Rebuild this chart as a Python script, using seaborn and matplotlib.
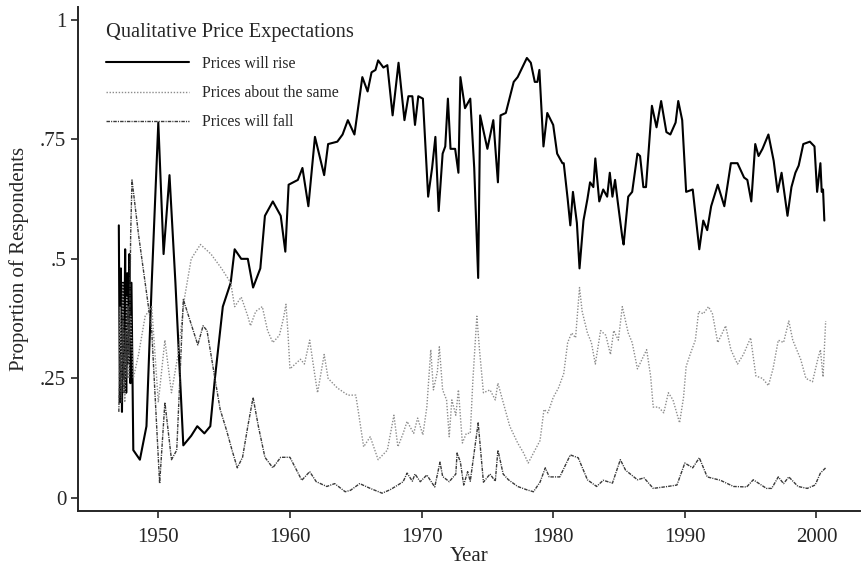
import matplotlib
matplotlib.use("Agg")
import matplotlib.pyplot as plt
import seaborn as sns
import pandas as pd

# Prices will rise
rise_year = [1947.0, 1947.08, 1947.16, 1947.24, 1947.32, 1947.4, 1947.48, 1947.56, 1947.64, 1947.72,
             1947.8, 1947.88, 1947.96, 1948.1, 1948.6, 1949.1, 1949.5, 1950.0, 1950.4, 1950.85,
             1951.3, 1951.9, 1952.5, 1952.96, 1953.5, 1953.95, 1954.3, 1954.9, 1955.5, 1955.8,
             1956.3, 1956.8, 1957.2, 1957.75, 1958.1, 1958.7, 1959.3, 1959.65, 1959.9, 1960.6,
             1960.95, 1961.4, 1961.9, 1962.6, 1962.9, 1963.6, 1964.0, 1964.4, 1964.9, 1965.5,
             1965.9, 1966.2, 1966.5, 1966.7, 1967.1, 1967.4, 1967.8, 1968.25, 1968.7, 1969.0,
             1969.3, 1969.5, 1969.75, 1970.1, 1970.5, 1970.8, 1971.05, 1971.3, 1971.6, 1971.8,
             1972.0, 1972.2, 1972.55, 1972.8, 1972.95, 1973.3, 1973.7, 1974.0, 1974.3, 1974.45,
             1975.0, 1975.45, 1975.8, 1976.0, 1976.4, 1977.0, 1977.3, 1978.0, 1978.3, 1978.6,
             1978.8, 1978.95, 1979.26, 1979.55, 1980.0, 1980.3, 1980.7, 1980.8, 1981.1, 1981.3,
             1981.5, 1981.8, 1982.0, 1982.3, 1982.6, 1982.8, 1983.05, 1983.2, 1983.5, 1983.8,
             1984.1, 1984.3, 1984.5, 1984.7, 1984.9, 1985.25, 1985.35, 1985.7, 1986.0, 1986.4,
             1986.6, 1986.85, 1987.05, 1987.5, 1987.85, 1988.2, 1988.6, 1988.9, 1989.3, 1989.5,
             1989.8, 1990.1, 1990.6, 1990.8, 1991.1, 1991.4, 1991.7, 1992.0, 1992.5, 1993.0,
             1993.5, 1994.0, 1994.5, 1994.75, 1995.05, 1995.35, 1995.6, 1995.9, 1996.35, 1996.75,
             1997.05, 1997.35, 1997.8, 1998.1, 1998.4, 1998.65, 1999.0, 1999.5, 1999.85, 2000.05,
             2000.3, 2000.4, 2000.5, 2000.6]
rise_val = [0.57, 0.20, 0.48, 0.18, 0.45, 0.25, 0.52, 0.22, 0.47, 0.28,
            0.51, 0.24, 0.45, 0.10, 0.08, 0.15, 0.45, 0.785, 0.51, 0.675,
            0.45, 0.11, 0.13, 0.15, 0.135, 0.15, 0.25, 0.40, 0.45, 0.52,
            0.50, 0.50, 0.44, 0.48, 0.59, 0.62, 0.59, 0.515, 0.655, 0.665,
            0.69, 0.61, 0.755, 0.675, 0.74, 0.745, 0.76, 0.79, 0.76, 0.88,
            0.85, 0.89, 0.895, 0.915, 0.90, 0.905, 0.80, 0.91, 0.79, 0.84,
            0.84, 0.78, 0.84, 0.835, 0.63, 0.69, 0.755, 0.60, 0.72, 0.735,
            0.835, 0.73, 0.73, 0.68, 0.88, 0.815, 0.835, 0.69, 0.46, 0.80,
            0.73, 0.79, 0.66, 0.80, 0.805, 0.87, 0.88, 0.92, 0.91, 0.87,
            0.87, 0.895, 0.735, 0.805, 0.78, 0.72, 0.70, 0.70, 0.625, 0.57,
            0.64, 0.575, 0.48, 0.58, 0.625, 0.66, 0.65, 0.71, 0.62, 0.645,
            0.63, 0.68, 0.63, 0.665, 0.62, 0.545, 0.53, 0.63, 0.64, 0.72,
            0.715, 0.65, 0.65, 0.82, 0.775, 0.83, 0.765, 0.76, 0.785, 0.83,
            0.79, 0.64, 0.645, 0.595, 0.52, 0.58, 0.56, 0.61, 0.655, 0.61,
            0.70, 0.70, 0.67, 0.665, 0.62, 0.74, 0.715, 0.73, 0.76, 0.705,
            0.64, 0.68, 0.59, 0.65, 0.68, 0.695, 0.74, 0.745, 0.735, 0.64,
            0.70, 0.64, 0.645, 0.58]

# Prices about the same
same_year = [1947.0, 1947.1, 1947.2, 1947.3, 1947.45, 1947.6, 1947.75, 1947.9, 1948.1, 1948.5,
             1949.0, 1949.5, 1950.0, 1950.5, 1951.0, 1951.5, 1952.0, 1952.5, 1953.2, 1954.0,
             1954.8, 1955.5, 1955.8, 1956.3, 1956.8, 1957.0, 1957.4, 1957.9, 1958.3, 1958.7,
             1959.2, 1959.5, 1959.7, 1959.85, 1960.0, 1960.8, 1961.1, 1961.5, 1961.9, 1962.1,
             1962.6, 1962.9, 1963.6, 1964.4, 1965.0, 1965.2, 1965.6, 1966.1, 1966.7, 1967.4,
             1967.9, 1968.2, 1968.6, 1968.9, 1969.4, 1969.7, 1970.1, 1970.4, 1970.7, 1970.9,
             1971.2, 1971.35, 1971.6, 1971.9, 1972.1, 1972.3, 1972.6, 1972.8, 1973.1, 1973.4,
             1973.7, 1973.9, 1974.2, 1974.4, 1974.7, 1975.2, 1975.6, 1975.8, 1976.2, 1976.7,
             1977.3, 1977.75, 1978.1, 1978.5, 1979.0, 1979.3, 1979.6, 1980.0, 1980.4, 1980.8,
             1981.1, 1981.4, 1981.7, 1982.0, 1982.2, 1982.6, 1982.9, 1983.2, 1983.6, 1984.0,
             1984.35, 1984.6, 1984.95, 1985.25, 1985.7, 1986.0, 1986.4, 1987.1, 1987.4, 1987.6,
             1988.0, 1988.4, 1988.75, 1989.1, 1989.6, 1989.9, 1990.1, 1990.4, 1990.8, 1991.05,
             1991.4, 1991.8, 1992.1, 1992.5, 1992.85, 1993.1, 1993.5, 1994.0, 1994.45, 1995.0,
             1995.4, 1995.9, 1996.35, 1996.7, 1997.1, 1997.5, 1997.9, 1998.2, 1998.8, 1999.2,
             1999.7, 2000.1, 2000.3, 2000.5, 2000.7]
same_val = [0.25, 0.40, 0.22, 0.45, 0.20, 0.42, 0.25, 0.38, 0.25, 0.30,
            0.38, 0.40, 0.20, 0.33, 0.22, 0.30, 0.42, 0.50, 0.53, 0.51,
            0.48, 0.45, 0.40, 0.42, 0.38, 0.36, 0.39, 0.40, 0.35, 0.325,
            0.34, 0.375, 0.405, 0.345, 0.27, 0.29, 0.28, 0.33, 0.255, 0.22,
            0.30, 0.25, 0.23, 0.215, 0.215, 0.18, 0.107, 0.128, 0.08, 0.10,
            0.173, 0.107, 0.135, 0.16, 0.135, 0.167, 0.132, 0.19, 0.31, 0.226,
            0.264, 0.316, 0.226, 0.205, 0.128, 0.205, 0.173, 0.226, 0.115, 0.135,
            0.135, 0.247, 0.38, 0.31, 0.22, 0.226, 0.205, 0.24, 0.20, 0.15,
            0.115, 0.094, 0.073, 0.094, 0.12, 0.185, 0.178, 0.21, 0.23, 0.26,
            0.325, 0.345, 0.335, 0.44, 0.39, 0.345, 0.325, 0.28, 0.35, 0.34,
            0.30, 0.35, 0.33, 0.40, 0.345, 0.325, 0.27, 0.31, 0.255, 0.19,
            0.19, 0.178, 0.22, 0.205, 0.157, 0.21, 0.275, 0.30, 0.33, 0.39,
            0.385, 0.40, 0.385, 0.325, 0.345, 0.36, 0.31, 0.28, 0.30, 0.335,
            0.255, 0.25, 0.235, 0.27, 0.33, 0.325, 0.37, 0.33, 0.29, 0.25,
            0.243, 0.29, 0.31, 0.253, 0.37]

# Prices will fall
fall_year = [1947.0, 1947.1, 1947.2, 1947.3, 1947.4, 1947.5, 1947.6, 1947.7, 1947.8, 1947.9,
             1948.0, 1948.5, 1949.0, 1949.5, 1950.1, 1950.5, 1951.0, 1951.4, 1951.9, 1953.0,
             1953.4, 1953.7, 1954.3, 1954.7, 1955.2, 1955.6, 1956.0, 1956.4, 1956.8, 1957.2,
             1957.6, 1958.1, 1958.7, 1959.3, 1960.0, 1960.9, 1961.5, 1962.0, 1962.8, 1963.4,
             1964.2, 1964.6, 1965.3, 1966.1, 1967.0, 1967.6, 1968.2, 1968.6, 1968.9, 1969.3,
             1969.5, 1969.9, 1970.4, 1971.0, 1971.4, 1971.6, 1972.1, 1972.6, 1972.7, 1972.95,
             1973.2, 1973.5, 1973.7, 1974.3, 1974.7, 1975.2, 1975.6, 1975.8, 1976.2, 1976.6,
             1977.3, 1978.0, 1978.5, 1979.0, 1979.4, 1979.7, 1980.5, 1981.3, 1981.9, 1982.6,
             1983.3, 1983.8, 1984.5, 1985.1, 1985.5, 1986.4, 1986.9, 1987.6, 1988.7, 1989.4,
             1990.0, 1990.6, 1991.1, 1991.7, 1992.7, 1993.7, 1994.7, 1995.2, 1996.2, 1996.6,
             1997.1, 1997.5, 1997.9, 1998.6, 1999.3, 1999.9, 2000.3, 2000.7]
fall_val = [0.18, 0.30, 0.20, 0.38, 0.22, 0.35, 0.25, 0.40, 0.30, 0.55,
            0.665, 0.55, 0.45, 0.35, 0.03, 0.20, 0.08, 0.10, 0.415, 0.32,
            0.36, 0.35, 0.25, 0.185, 0.14, 0.10, 0.063, 0.085, 0.15, 0.21,
            0.15, 0.085, 0.063, 0.085, 0.085, 0.037, 0.055, 0.034, 0.024, 0.03,
            0.013, 0.016, 0.03, 0.02, 0.01, 0.017, 0.027, 0.034, 0.052, 0.035,
            0.05, 0.034, 0.048, 0.023, 0.075, 0.045, 0.034, 0.05, 0.094, 0.075,
            0.027, 0.055, 0.035, 0.157, 0.033, 0.05, 0.035, 0.10, 0.05, 0.038,
            0.024, 0.017, 0.013, 0.033, 0.063, 0.044, 0.044, 0.09, 0.084, 0.038,
            0.024, 0.037, 0.031, 0.08, 0.058, 0.038, 0.042, 0.02, 0.024, 0.027,
            0.073, 0.063, 0.084, 0.044, 0.037, 0.024, 0.023, 0.038, 0.02, 0.02,
            0.044, 0.03, 0.044, 0.024, 0.02, 0.027, 0.052, 0.063]

labels = ["Prices will rise", "Prices about the same", "Prices will fall"]
y_ticks = [0, 0.25, 0.5, 0.75, 1]
y_ticklabels = ["0", ".25", ".5", ".75", "1"]
x_ticks = [1950, 1960, 1970, 1980, 1990, 2000]

sns.set_style("ticks")
plt.rcParams['font.family'] = ['Liberation Serif', 'DejaVu Serif']

fig = plt.figure(figsize=(8.63, 5.67), dpi=100)
ax = fig.add_axes([0.0904, 0.099, 0.906, 0.889])

styles = [dict(color="black", lw=1.5, ls="-"),
          dict(color="#8c8c8c", lw=1.0, ls=(0, (1, 1.2))),
          dict(color="#3a3a3a", lw=1.0, ls=(0, (2.5, 0.8, 0.8, 0.8)))]

series = [(rise_year, rise_val), (same_year, same_val), (fall_year, fall_val)]
for (yr, val), lab, st in zip(series, labels, styles):
    df = pd.DataFrame({"year": yr, "value": val})
    sns.lineplot(data=df, x="year", y="value", ax=ax, label=lab,
                 estimator=None, sort=False, **st)

ax.set_xlim(1943.9, 2003.3)
ax.set_ylim(-0.027, 1.027)
ax.set_xticks(x_ticks)
ax.set_yticks(y_ticks)
ax.set_yticklabels(y_ticklabels)
ax.tick_params(axis="both", labelsize=15, length=5, width=1.2, direction="out")
ax.tick_params(axis="x", pad=7)
ax.set_xlabel("Year", fontsize=15, labelpad=0)
ax.set_ylabel("Proportion of Respondents", fontsize=15, labelpad=8)
for s in ["top", "right"]:
    ax.spines[s].set_visible(False)
for s in ["left", "bottom"]:
    ax.spines[s].set_linewidth(1.4)

leg = ax.legend(title="Qualitative Price Expectations", loc="upper left",
                bbox_to_anchor=(0.018, 0.995), frameon=False, fontsize=11.3,
                title_fontsize=14.7, handlelength=5.3, handletextpad=0.8,
                labelspacing=0.85)
leg._legend_box.align = "left"

fig.savefig("out.png", dpi=100)
